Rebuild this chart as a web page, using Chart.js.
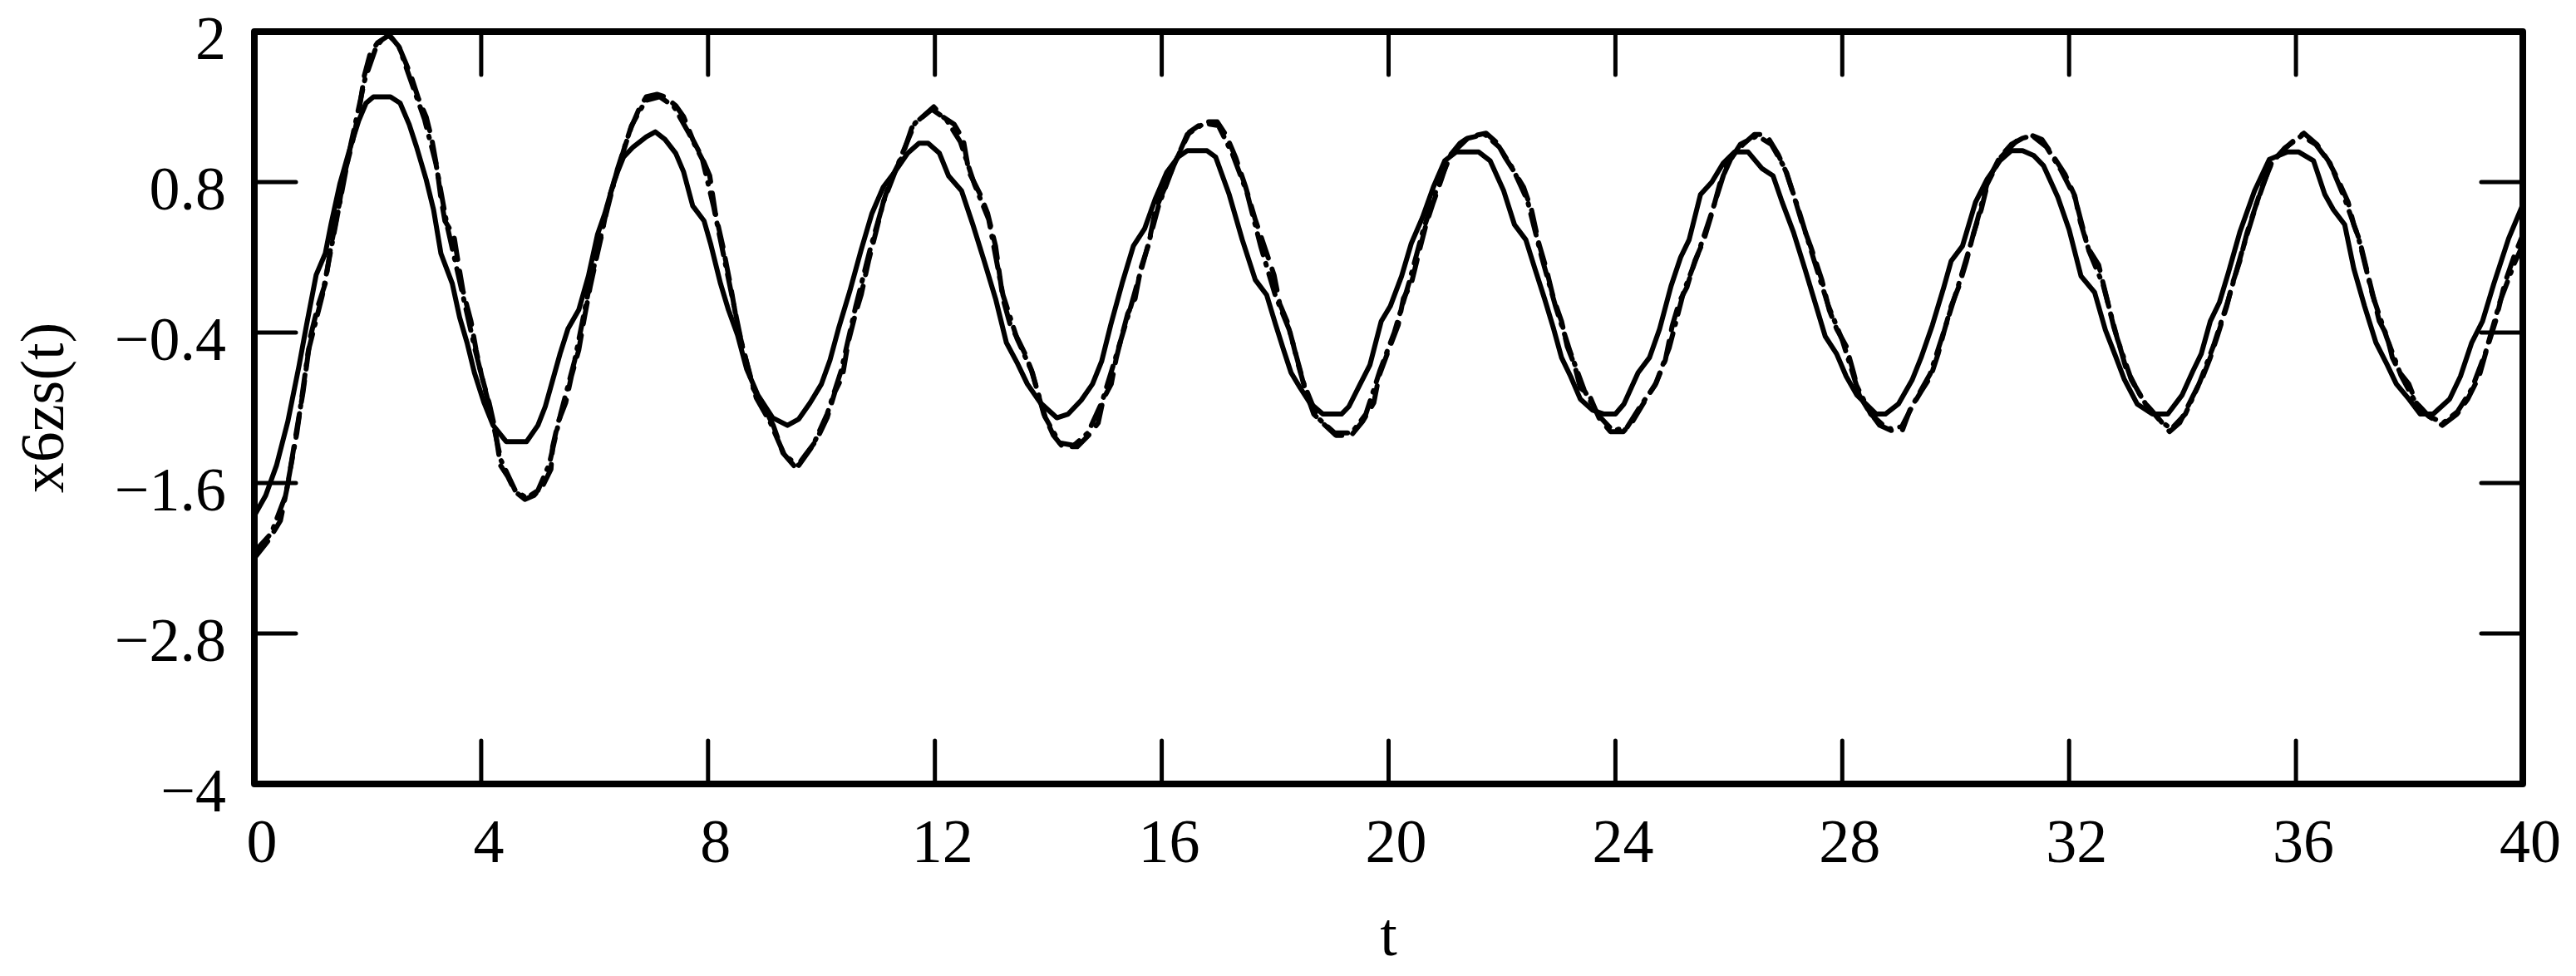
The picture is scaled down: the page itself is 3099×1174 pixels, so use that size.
<!DOCTYPE html>
<html>
<head>
<meta charset="utf-8">
<script src="https://cdn.jsdelivr.net/npm/chart.js@4.4.1/dist/chart.umd.min.js"></script>
<style>
  html, body { margin: 0; padding: 0; background: #fff; }
  canvas { display: block; }
</style>
</head>
<body>
<canvas id="myChart" width="3099" height="1174"></canvas>
<script>
// solid curve
var tSolid = [0, 0.2, 0.39, 0.59, 0.79, 0.92, 1.09, 1.25, 1.35, 1.51, 1.68, 1.84, 1.97, 2.1, 2.4, 2.57, 2.73, 2.86, 3.03, 3.16,
  3.29, 3.49, 3.62, 3.75, 3.88, 4.05, 4.21, 4.44, 4.8, 5.0, 5.13, 5.26, 5.39, 5.53, 5.72, 5.89, 6.05, 6.18, 6.35, 6.51,
  6.68, 6.91, 7.07, 7.24, 7.43, 7.57, 7.73, 7.93, 8.05, 8.22, 8.36, 8.52, 8.68, 8.88, 9.14, 9.4, 9.6, 9.8, 10.0, 10.15,
  10.3, 10.5, 10.7, 10.89, 11.09, 11.29, 11.52, 11.72, 11.88, 12.08, 12.24, 12.47, 12.67, 12.87, 13.07, 13.26, 13.46, 13.63, 13.86, 14.15,
  14.35, 14.58, 14.78, 14.94, 15.1, 15.3, 15.5, 15.7, 15.89, 16.09, 16.29, 16.45, 16.8, 16.95, 17.19, 17.42, 17.65, 17.85, 18.01, 18.15,
  18.28, 18.44, 18.61, 18.84, 19.17, 19.3, 19.5, 19.67, 19.87, 20.03, 20.23, 20.4, 20.6, 20.79, 20.99, 21.19, 21.59, 21.79, 22.03, 22.22,
  22.42, 22.58, 22.75, 22.91, 23.05, 23.21, 23.38, 23.6, 23.8, 24.0, 24.15, 24.4, 24.6, 24.78, 24.98, 25.15, 25.3, 25.5, 25.7, 25.9,
  26.1, 26.34, 26.58, 26.78, 26.94, 27.14, 27.34, 27.54, 27.7, 27.9, 28.07, 28.26, 28.6, 28.76, 28.99, 29.23, 29.39, 29.59, 29.79, 29.92,
  30.12, 30.35, 30.55, 30.78, 30.98, 31.18, 31.38, 31.55, 31.8, 32.0, 32.21, 32.45, 32.64, 32.82, 32.97, 33.2, 33.47, 33.74, 33.99, 34.18,
  34.33, 34.49, 34.65, 34.81, 35.01, 35.27, 35.53, 35.85, 36.05, 36.31, 36.51, 36.66, 36.86, 37.02, 37.21, 37.41, 37.6, 37.77, 37.99, 38.19,
  38.42, 38.71, 38.9, 39.1, 39.29, 39.49, 39.75, 40];
var ySolid = [-1.86, -1.7, -1.46, -1.11, -0.66, -0.34, 0.06, 0.23, 0.46, 0.79, 1.06, 1.29, 1.43, 1.48, 1.48, 1.43, 1.26, 1.08, 0.82, 0.58,
  0.23, -0.01, -0.28, -0.48, -0.72, -0.96, -1.14, -1.27, -1.27, -1.14, -0.99, -0.78, -0.57, -0.37, -0.22, 0.05, 0.38, 0.55, 0.82, 1.0,
  1.08, 1.16, 1.2, 1.14, 1.03, 0.88, 0.61, 0.49, 0.3, -0.01, -0.22, -0.42, -0.69, -0.9, -1.08, -1.14, -1.09, -0.96, -0.81, -0.62,
  -0.37, -0.07, 0.26, 0.55, 0.76, 0.88, 1.03, 1.11, 1.11, 1.03, 0.85, 0.73, 0.46, 0.17, -0.13, -0.48, -0.65, -0.81, -0.96, -1.08,
  -1.05, -0.94, -0.81, -0.63, -0.34, -0.01, 0.29, 0.43, 0.67, 0.88, 1.0, 1.05, 1.05, 1.0, 0.7, 0.34, 0.02, -0.1, -0.34, -0.54,
  -0.72, -0.84, -0.96, -1.05, -1.05, -0.99, -0.81, -0.66, -0.31, -0.19, 0.05, 0.31, 0.52, 0.76, 0.97, 1.04, 1.04, 0.97, 0.73, 0.46,
  0.34, 0.11, -0.13, -0.37, -0.6, -0.75, -0.93, -1.02, -1.05, -1.05, -0.97, -0.72, -0.6, -0.37, -0.03, 0.2, 0.34, 0.7, 0.8, 0.95,
  1.04, 1.04, 0.91, 0.85, 0.64, 0.4, 0.11, -0.19, -0.43, -0.57, -0.75, -0.9, -1.05, -1.05, -0.97, -0.78, -0.6, -0.34, -0.04, 0.17,
  0.29, 0.64, 0.82, 0.97, 1.05, 1.05, 1.01, 0.93, 0.68, 0.42, 0.05, -0.08, -0.38, -0.59, -0.77, -0.97, -1.05, -1.05, -0.9, -0.71,
  -0.57, -0.31, -0.16, 0.08, 0.4, 0.73, 0.98, 1.04, 1.04, 0.97, 0.7, 0.58, 0.46, 0.11, -0.19, -0.48, -0.65, -0.81, -0.93, -1.05,
  -1.05, -0.93, -0.75, -0.48, -0.31, -0.01, 0.35, 0.62];

// dashed curve
var tDash = [0, 0.26, 0.46, 0.59, 0.72, 0.86, 0.99, 1.12, 1.25, 1.35, 1.48, 1.58, 1.71, 1.84, 1.94, 2.04, 2.17, 2.37, 2.53, 2.66,
  2.76, 2.89, 3.03, 3.13, 3.22, 3.29, 3.36, 3.52, 3.59, 3.68, 3.82, 3.91, 4.01, 4.14, 4.24, 4.34, 4.47, 4.6, 4.77, 4.93,
  5.1, 5.23, 5.26, 5.36, 5.49, 5.59, 5.72, 5.82, 5.92, 6.02, 6.12, 6.25, 6.38, 6.51, 6.64, 6.78, 6.91, 7.1, 7.24, 7.43,
  7.57, 7.73, 7.89, 8.03, 8.13, 8.26, 8.39, 8.53, 8.66, 8.79, 8.99, 9.15, 9.32, 9.55, 9.71, 9.91, 10.1, 10.24, 10.37, 10.47,
  10.6, 10.7, 10.83, 10.96, 11.09, 11.22, 11.42, 11.59, 11.68, 11.98, 12.14, 12.34, 12.5, 12.6, 12.8, 12.93, 13.07, 13.2, 13.33, 13.46,
  13.59, 13.72, 13.79, 13.92, 14.09, 14.25, 14.51, 14.71, 14.88, 14.97, 15.11, 15.2, 15.3, 15.4, 15.53, 15.63, 15.76, 15.89, 16.06, 16.19,
  16.36, 16.49, 16.75, 16.98, 17.14, 17.3, 17.48, 17.65, 17.8, 17.98, 18.08, 18.21, 18.31, 18.41, 18.54, 18.68, 18.81, 19.07, 19.34, 19.54,
  19.74, 19.83, 20.0, 20.17, 20.26, 20.4, 20.53, 20.66, 20.79, 20.93, 21.06, 21.26, 21.42, 21.72, 21.92, 22.05, 22.22, 22.38, 22.52, 22.65,
  22.78, 22.91, 23.05, 23.15, 23.28, 23.38, 23.54, 23.71, 23.91, 24.14, 24.3, 24.5, 24.72, 24.88, 25.0, 25.13, 25.26, 25.4, 25.56, 25.7,
  25.85, 26.05, 26.25, 26.45, 26.6, 26.71, 26.87, 27.01, 27.14, 27.3, 27.44, 27.64, 27.77, 27.9, 28.07, 28.2, 28.3, 28.46, 28.66, 28.86,
  29.06, 29.19, 29.39, 29.56, 29.69, 29.79, 29.92, 30.05, 30.19, 30.32, 30.45, 30.58, 30.78, 30.98, 31.3, 31.52, 31.73, 31.93, 32.1, 32.2,
  32.34, 32.52, 32.65, 32.79, 32.9, 33.0, 33.17, 33.33, 33.55, 33.77, 33.95, 34.18, 34.36, 34.49, 34.62, 34.78, 34.88, 35.01, 35.14, 35.27,
  35.4, 35.59, 35.79, 35.98, 36.14, 36.37, 36.57, 36.73, 36.92, 37.02, 37.12, 37.21, 37.34, 37.47, 37.6, 37.7, 37.83, 37.99, 38.12, 38.32,
  38.58, 38.84, 39.03, 39.23, 39.36, 39.52, 39.68, 39.84, 40];
var yDash = [-2.2, -2.05, -1.9, -1.61, -1.25, -0.87, -0.43, -0.19, -0.01, 0.29, 0.58, 0.85, 1.08, 1.35, 1.65, 1.82, 1.91, 1.97, 1.9, 1.76,
  1.65, 1.47, 1.32, 1.14, 0.91, 0.67, 0.49, 0.37, 0.17, -0.07, -0.31, -0.54, -0.75, -0.96, -1.16, -1.46, -1.55, -1.67, -1.73, -1.7,
  -1.61, -1.49, -1.31, -1.11, -0.96, -0.75, -0.54, -0.28, -0.04, 0.17, 0.37, 0.67, 0.85, 1.05, 1.23, 1.38, 1.48, 1.5, 1.48, 1.41,
  1.32, 1.14, 1.0, 0.85, 0.55, 0.29, -0.01, -0.37, -0.6, -0.84, -1.0, -1.14, -1.36, -1.48, -1.38, -1.26, -1.08, -0.87, -0.75, -0.48,
  -0.25, -0.1, 0.17, 0.4, 0.64, 0.82, 1.0, 1.23, 1.28, 1.4, 1.32, 1.26, 1.14, 0.88, 0.7, 0.55, 0.29, -0.13, -0.34, -0.45,
  -0.57, -0.72, -0.84, -1.05, -1.22, -1.31, -1.31, -1.22, -1.12, -0.93, -0.81, -0.6, -0.42, -0.25, -0.13, 0.11, 0.29, 0.58, 0.76, 0.91,
  1.08, 1.2, 1.28, 1.28, 1.17, 1.0, 0.76, 0.5, 0.3, 0.06, -0.17, -0.31, -0.48, -0.66, -0.87, -1.05, -1.11, -1.22, -1.22, -1.11,
  -0.96, -0.75, -0.54, -0.34, -0.13, -0.01, 0.23, 0.46, 0.64, 0.82, 1.0, 1.11, 1.16, 1.19, 1.11, 1.0, 0.88, 0.76, 0.58, 0.31,
  0.11, -0.13, -0.31, -0.51, -0.66, -0.84, -0.9, -1.08, -1.19, -1.19, -1.11, -0.96, -0.8, -0.62, -0.35, -0.15, -0.04, 0.17, 0.34, 0.55,
  0.8, 1.0, 1.1, 1.18, 1.18, 1.14, 1.02, 0.88, 0.7, 0.46, 0.29, 0.02, -0.22, -0.37, -0.51, -0.72, -0.9, -1.02, -1.14, -1.18,
  -1.18, -1.02, -0.87, -0.75, -0.57, -0.4, -0.19, -0.04, 0.17, 0.4, 0.58, 0.82, 1.0, 1.1, 1.18, 1.14, 1.0, 0.86, 0.69, 0.48,
  0.27, 0.14, -0.1, -0.36, -0.52, -0.68, -0.83, -0.96, -1.07, -1.19, -1.12, -0.91, -0.75, -0.6, -0.42, -0.19, -0.01, 0.17, 0.4, 0.58,
  0.76, 0.97, 1.06, 1.14, 1.19, 1.1, 0.97, 0.83, 0.64, 0.46, 0.34, 0.17, -0.07, -0.31, -0.42, -0.6, -0.72, -0.81, -0.96, -1.06,
  -1.14, -1.05, -0.93, -0.75, -0.54, -0.31, -0.01, 0.2, 0.38];

// dash-dot curve
var tDot = [0, 0.3, 0.55, 0.75, 0.95, 1.2, 1.45, 1.7, 1.95, 2.15, 2.35, 2.55, 2.75, 3.0, 3.2, 3.4, 3.65, 3.9, 4.15, 4.35,
  4.6, 4.8, 5.0, 5.2, 5.4, 5.65, 5.9, 6.15, 6.4, 6.65, 6.9, 7.15, 7.4, 7.65, 7.9, 8.1, 8.35, 8.6, 8.85, 9.1,
  9.35, 9.6, 9.85, 10.1, 10.35, 10.6, 10.85, 11.1, 11.4, 11.65, 11.95, 12.2, 12.45, 12.7, 12.95, 13.2, 13.45, 13.7, 13.95, 14.2,
  14.45, 14.7, 14.95, 15.2, 15.45, 15.7, 15.95, 16.2, 16.45, 16.75, 17.0, 17.25, 17.5, 17.75, 18.0, 18.25, 18.5, 18.75, 19.05, 19.35,
  19.6, 19.85, 20.1, 20.35, 20.6, 20.85, 21.1, 21.4, 21.7, 21.95, 22.2, 22.45, 22.7, 22.95, 23.2, 23.45, 23.7, 23.95, 24.2, 24.45,
  24.7, 24.95, 25.2, 25.45, 25.7, 25.95, 26.2, 26.5, 26.75, 27.0, 27.25, 27.5, 27.75, 28.0, 28.25, 28.5, 28.8, 29.05, 29.3, 29.55,
  29.8, 30.05, 30.3, 30.55, 30.8, 31.1, 31.35, 31.6, 31.85, 32.1, 32.35, 32.6, 32.85, 33.1, 33.35, 33.6, 33.8, 34.05, 34.3, 34.55,
  34.8, 35.05, 35.3, 35.55, 35.8, 36.1, 36.35, 36.6, 36.85, 37.1, 37.35, 37.6, 37.85, 38.1, 38.35, 38.6, 38.85, 39.1, 39.35, 39.6,
  39.85, 40];
var yDot = [-2.15, -2.0, -1.7, -1.2, -0.55, -0.1, 0.5, 1.1, 1.62, 1.88, 1.99, 1.88, 1.62, 1.3, 0.95, 0.45, -0.05, -0.55, -1.0, -1.42,
  -1.66, -1.72, -1.66, -1.45, -1.05, -0.62, -0.05, 0.45, 0.9, 1.25, 1.45, 1.48, 1.4, 1.2, 0.98, 0.6, 0.05, -0.5, -0.92, -1.12,
  -1.38, -1.46, -1.3, -1.05, -0.7, -0.2, 0.25, 0.65, 1.0, 1.27, 1.38, 1.3, 1.12, 0.78, 0.5, -0.1, -0.45, -0.7, -1.08, -1.28,
  -1.3, -1.2, -0.95, -0.58, -0.2, 0.2, 0.62, 0.92, 1.18, 1.27, 1.25, 1.02, 0.72, 0.28, -0.1, -0.38, -0.8, -1.08, -1.2, -1.2,
  -1.05, -0.7, -0.4, -0.02, 0.4, 0.75, 1.02, 1.15, 1.18, 1.08, 0.9, 0.65, 0.2, -0.2, -0.55, -0.86, -1.06, -1.18, -1.16, -0.98,
  -0.82, -0.52, -0.08, 0.22, 0.56, 0.92, 1.1, 1.17, 1.1, 0.9, 0.55, 0.18, -0.18, -0.46, -0.82, -1.05, -1.17, -1.15, -0.93, -0.73,
  -0.38, -0.02, 0.36, 0.78, 1.0, 1.14, 1.17, 1.08, 0.9, 0.68, 0.25, -0.02, -0.45, -0.78, -0.97, -1.1, -1.17, -1.05, -0.8, -0.5,
  -0.15, 0.25, 0.62, 0.94, 1.07, 1.17, 1.1, 0.95, 0.68, 0.36, -0.1, -0.44, -0.74, -0.95, -1.07, -1.12, -1.03, -0.85, -0.55, -0.15,
  0.15, 0.3];

var xTicks = [0, 4, 8, 12, 16, 20, 24, 28, 32, 36, 40];
var yTicks = [-4, -2.8, -1.6, -0.4, 0.8, 2];

function points(ts, ys) {
  return ts.map(function(t, i) { return {x: t, y: ys[i]}; });
}

var FONT = "'Liberation Serif', 'Times New Roman', serif";

// box round the plot, with the ticks pointing inwards
var framePlugin = {
  id: 'frame',
  afterDatasetsDraw: function(chart) {
    var ctx = chart.ctx, a = chart.chartArea;
    var xs = chart.scales.x, ys = chart.scales.y;
    ctx.save();
    ctx.strokeStyle = '#000';
    ctx.lineCap = 'round';
    ctx.lineWidth = 5;
    ctx.beginPath();
    for (var i = 1; i < xTicks.length - 1; i++) {
      var px = xs.getPixelForValue(xTicks[i]);
      ctx.moveTo(px, a.bottom); ctx.lineTo(px, a.bottom - 52);
      ctx.moveTo(px, a.top); ctx.lineTo(px, a.top + 52);
    }
    for (var j = 1; j < yTicks.length - 1; j++) {
      var py = ys.getPixelForValue(yTicks[j]);
      ctx.moveTo(a.left, py); ctx.lineTo(a.left + 50, py);
      ctx.moveTo(a.right, py); ctx.lineTo(a.right - 50, py);
    }
    ctx.stroke();
    ctx.lineWidth = 8;
    ctx.lineJoin = 'round';
    ctx.strokeRect(a.left, a.top, a.right - a.left, a.bottom - a.top);
    ctx.restore();
  }
};

new Chart("myChart", {
  type: "line",
  data: {
    datasets: [{
      data: points(tSolid, ySolid),
      borderColor: "#000",
      borderWidth: 6
    }, {
      data: points(tDash, yDash),
      borderColor: "#000",
      borderWidth: 6,
      borderDash: [26, 14]
    }, {
      data: points(tDot, yDot),
      borderColor: "#000",
      borderWidth: 6,
      borderDash: [26, 11, 2, 11]
    }]
  },
  options: {
    responsive: false,
    animation: false,
    devicePixelRatio: 1,
    layout: {padding: {left: 0, top: 38, right: 64, bottom: 0}},
    elements: {
      point: {radius: 0},
      line: {tension: 0, borderCapStyle: 'round', borderJoinStyle: 'round'}
    },
    plugins: {legend: {display: false}, tooltip: {enabled: false}},
    scales: {
      x: {
        type: "linear",
        min: 0, max: 40,
        grid: {display: false, drawTicks: false},
        border: {display: false},
        afterBuildTicks: function(s) { s.ticks = xTicks.map(function(v) { return {value: v}; }); },
        afterFit: function(s) { s.height = 231; s.paddingLeft = 0; s.paddingRight = 0; },
        ticks: {
          color: "#000", padding: 30, labelOffset: 9, maxRotation: 0, autoSkip: false,
          font: {family: FONT, size: 74}
        },
        title: {display: true, text: "t", color: "#000", font: {family: FONT, size: 74}, padding: {top: 0, bottom: 0}}
      },
      y: {
        type: "linear",
        min: -4, max: 2,
        grid: {display: false, drawTicks: false},
        border: {display: false},
        afterBuildTicks: function(s) { s.ticks = yTicks.map(function(v) { return {value: v}; }); },
        afterFit: function(s) { s.width = 306; s.paddingTop = 0; s.paddingBottom = 0; },
        ticks: {
          color: "#000", padding: 34, labelOffset: 14, autoSkip: false,
          font: {family: FONT, size: 74},
          callback: function(v) { return String(v).replace('-', '\u2212'); }
        },
        title: {display: true, text: "x6zs(t)", color: "#000", font: {family: FONT, size: 74}, padding: {top: 12, bottom: 0}}
      }
    }
  },
  plugins: [framePlugin]
});
</script>
</body>
</html>
